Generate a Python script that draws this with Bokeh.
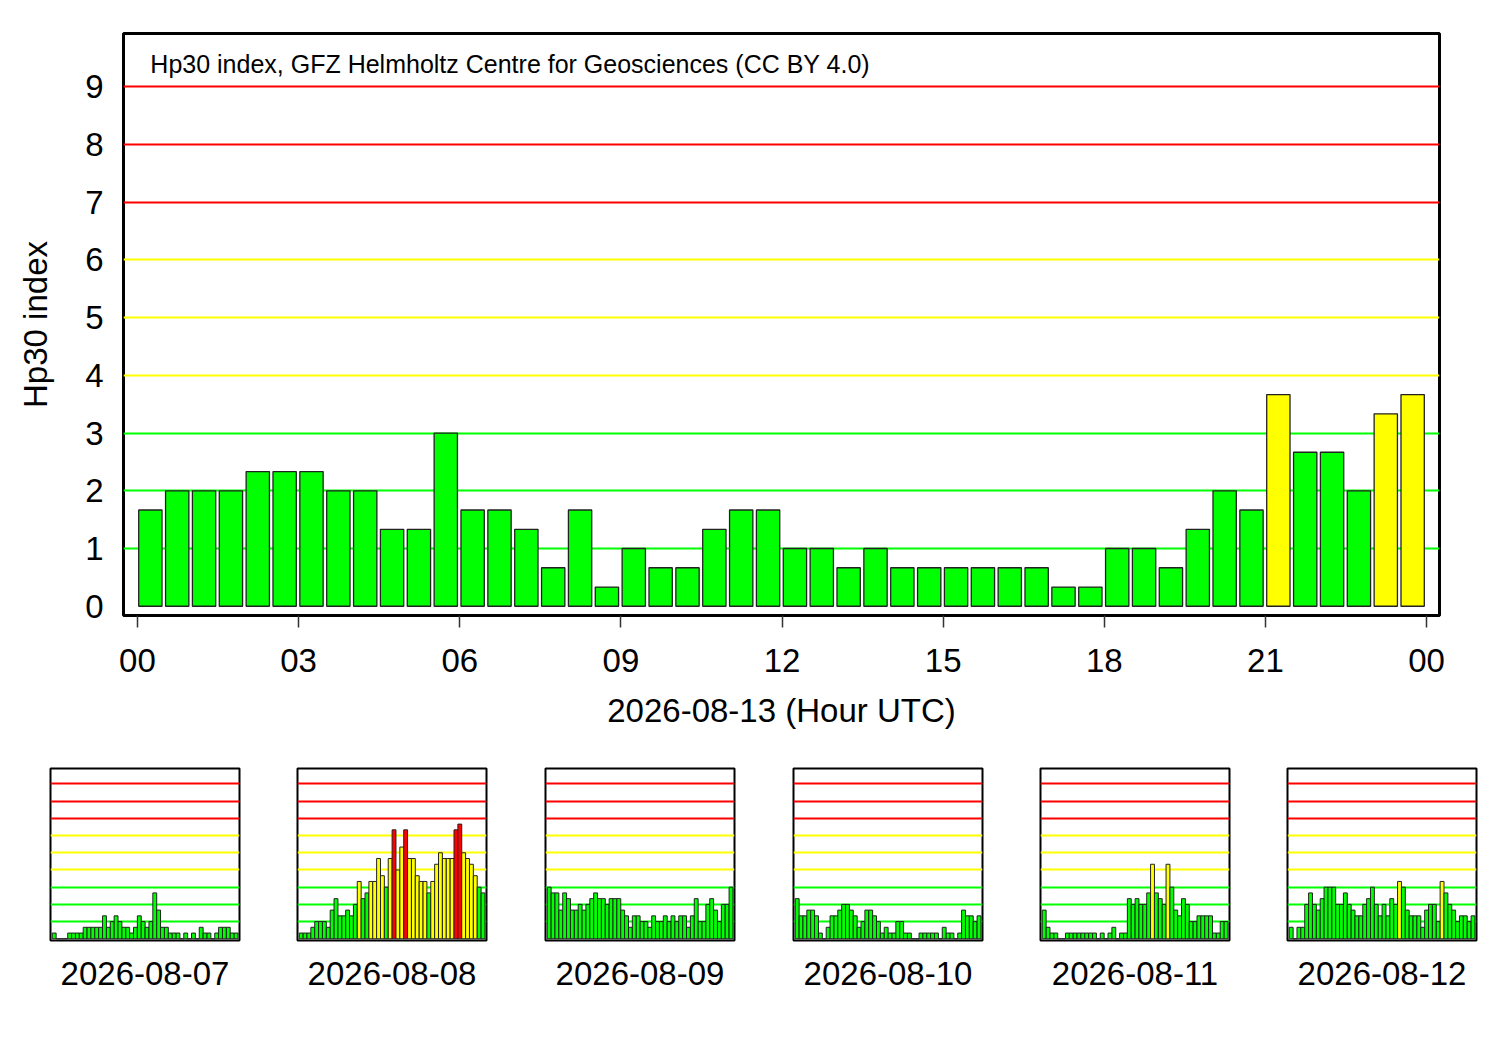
from bokeh.plotting import figure
from bokeh.models import FixedTicker, Range1d, Label, ColumnDataSource
from bokeh.layouts import column, row
from bokeh.embed import file_html
from bokeh.resources import INLINE

# ---------------- data ----------------
main_date = "2026-08-13"
main_values = [1.667, 2, 2, 2, 2.333, 2.333, 2.333, 2, 2, 1.333,
               1.333, 3, 1.667, 1.667, 1.333, 0.667, 1.667, 0.333, 1, 0.667,
               0.667, 1.333, 1.667, 1.667, 1, 1, 0.667, 1, 0.667, 0.667,
               0.667, 0.667, 0.667, 0.667, 0.333, 0.333, 1, 1, 0.667, 1.333,
               2, 1.667, 3.667, 2.667, 2.667, 2, 3.333, 3.667]
hour_ticks = [0, 3, 6, 9, 12, 15, 18, 21, 24]
hour_labels = ["00", "03", "06", "09", "12", "15", "18", "21", "00"]
y_ticks = [0, 1, 2, 3, 4, 5, 6, 7, 8, 9]
grid_levels = [1, 2, 3, 4, 5, 6, 7, 8, 9]

day_dates = ["2026-08-07", "2026-08-08", "2026-08-09",
             "2026-08-10", "2026-08-11", "2026-08-12"]
day07 = [0.333, 0, 0, 0, 0.333, 0.333, 0.333, 0.333, 0.667, 0.667,
         0.667, 0.667, 0.667, 1.333, 0.667, 1, 1.333, 1, 0.667, 0.667,
         0.333, 0.667, 1.333, 1, 0.667, 1, 2.667, 1.667, 0.667, 0.667,
         0.333, 0.333, 0.333, 0, 0.333, 0, 0.333, 0, 0.667, 0.333,
         0.333, 0, 0.333, 0.667, 0.667, 0.667, 0.333, 0.333]
day08 = [0.333, 0.333, 0.333, 0.667, 1, 1, 1, 0.667, 1.667, 2.333,
         1.333, 1.333, 1.667, 1.333, 2, 3.333, 2.333, 2.667, 3.333, 3.333,
         4.667, 3.667, 3, 4.667, 6.333, 4, 5.333, 6.333, 4.667, 4.667,
         3.667, 3.333, 3.333, 2.667, 3.333, 4.333, 5, 4.667, 4.667, 4.667,
         6.333, 6.667, 5, 4.667, 4.333, 3.667, 3, 2.667]
day09 = [3, 2.667, 2.667, 1.667, 2.667, 2.333, 1.667, 1.667, 2, 1.667,
         2, 2.333, 2.667, 2.333, 2.333, 2, 2.333, 2.333, 2.333, 1.667,
         1.333, 0.667, 1.333, 1.333, 1, 1, 0.667, 1.333, 1, 1,
         1.333, 1, 1.333, 1, 1.333, 1.333, 0.667, 1.333, 2.333, 1,
         1, 2, 2.333, 1.667, 1, 2, 2, 3]
day10 = [2.333, 1.333, 1.333, 1.667, 1.667, 1.333, 0.333, 0, 0.667, 1.333,
         1.333, 1.667, 2, 2, 1.667, 1.333, 0.667, 1, 1.667, 1.667,
         1.333, 1, 0.333, 0.667, 0.333, 0.333, 1, 1, 0.333, 0.333,
         0, 0, 0.333, 0.333, 0.333, 0.333, 0.333, 0, 0.667, 0.333,
         0.333, 0, 0.333, 1.667, 1.333, 1.333, 1, 1.333]
day11 = [1.667, 0.667, 0.333, 0.333, 0, 0, 0.333, 0.333, 0.333, 0.333,
         0.333, 0.333, 0.333, 0.333, 0, 0.333, 0, 0.333, 0.667, 0,
         0.333, 0.333, 2.333, 2, 2.333, 2, 2, 2.667, 4.333, 2.667,
         2.333, 2, 4.333, 3, 1.667, 1.333, 2.333, 2, 1, 1,
         1.333, 1.333, 1.333, 1.333, 0.333, 0.333, 1, 1]
day12 = [0.667, 0, 0.667, 0.667, 2, 2.667, 2, 1.667, 2.333, 3,
         3, 3, 2, 2, 2.667, 2, 1.667, 1.333, 1.333, 2,
         2.333, 3, 2, 1.333, 2, 1.333, 2.333, 2, 3.333, 3,
         1.667, 1.333, 1.333, 1.333, 0.667, 1.667, 2, 2, 1, 3.333,
         2.667, 2, 1.667, 1, 1.333, 1.333, 1, 1.333]
day_values = [day07, day08, day09, day10, day11, day12]

# ---------------- styling ----------------
FONT = "Liberation Sans"
GREEN, YELLOW, RED = "#00ff00", "#ffff00", "#ff0000"


def bar_color(v):
    if v <= 3.01:
        return GREEN
    if v <= 6.01:
        return YELLOW
    return RED


def grid_color(level):
    return GREEN if level <= 3 else (YELLOW if level <= 6 else RED)


grid_colors = [grid_color(g) for g in grid_levels]

# ---------------- main chart ----------------
p = figure(width=1484, height=745,
           x_range=Range1d(-0.26, 24.24), y_range=Range1d(-0.16, 9.92),
           output_backend="svg", toolbar_location=None,
           min_border_left=123, min_border_right=45,
           min_border_top=33, min_border_bottom=130)
p.outline_line_color = "black"
p.outline_line_width = 3
p.grid.visible = False
p.background_fill_color = "white"
p.border_fill_color = "white"

p.hspan(y=grid_levels, line_color=grid_colors, line_width=2)

main_x = [i * 0.5 + 0.24 for i in range(len(main_values))]
src = ColumnDataSource(dict(x=main_x, top=main_values,
                            color=[bar_color(v) for v in main_values]))
p.vbar(x="x", top="top", bottom=0, width=0.434, source=src,
       fill_color="color", line_color="#222222", line_width=1.3)

xa = p.xaxis[0]
xa.ticker = FixedTicker(ticks=hour_ticks)
xa.major_label_overrides = {t: l for t, l in zip(hour_ticks, hour_labels)}
xa.axis_line_color = None
xa.major_tick_out = 12
xa.major_tick_in = 0
xa.major_tick_line_width = 1.5
xa.major_tick_line_color = "#333333"
xa.minor_tick_line_color = None
xa.major_label_standoff = 21
xa.major_label_text_font = FONT
xa.major_label_text_font_size = "33px"
xa.major_label_text_color = "black"
xa.axis_label = f"{main_date} (Hour UTC)"
xa.axis_label_text_font = FONT
xa.axis_label_text_font_size = "33px"
xa.axis_label_text_font_style = "normal"
xa.axis_label_text_color = "black"
xa.axis_label_standoff = 17

ya = p.yaxis[0]
ya.ticker = FixedTicker(ticks=y_ticks)
ya.axis_line_color = None
ya.major_tick_out = 0
ya.major_tick_in = 0
ya.major_tick_line_color = None
ya.minor_tick_line_color = None
ya.major_label_standoff = 20
ya.major_label_text_font = FONT
ya.major_label_text_font_size = "33px"
ya.major_label_text_color = "black"
ya.axis_label = "Hp30 index"
ya.axis_label_text_font = FONT
ya.axis_label_text_font_size = "33px"
ya.axis_label_text_font_style = "normal"
ya.axis_label_text_color = "black"
ya.axis_label_standoff = 28

p.add_layout(Label(x=0.24, y=9.40,
                   text="Hp30 index, GFZ Helmholtz Centre for Geosciences (CC BY 4.0)",
                   text_font=FONT, text_font_size="25px", text_color="black",
                   text_baseline="middle"))

# ---------------- small daily charts ----------------
fig_widths = [247, 248, 248, 247, 247, 247]
frame_left = 50
frame_width = 189
smalls = []
for date, vals, w in zip(day_dates, day_values, fig_widths):
    s = figure(width=w, height=247,
               x_range=Range1d(-0.45, 48.4), y_range=Range1d(-0.1, 9.9),
               output_backend="svg", toolbar_location=None,
               min_border_left=frame_left, min_border_right=w - frame_left - frame_width,
               min_border_top=23, min_border_bottom=52)
    s.outline_line_color = "black"
    s.outline_line_width = 2
    s.grid.visible = False
    s.yaxis.visible = False
    s.hspan(y=grid_levels, line_color=grid_colors, line_width=2)
    ssrc = ColumnDataSource(dict(x=[i + 0.5 for i in range(len(vals))], top=vals,
                                 color=[bar_color(v) for v in vals]))
    s.vbar(x="x", top="top", bottom=0, width=1.0, source=ssrc,
           fill_color="color", line_color="#222222", line_width=1)
    sa = s.xaxis[0]
    sa.ticker = FixedTicker(ticks=[])
    sa.axis_line_color = None
    sa.major_tick_out = 0
    sa.major_tick_in = 0
    sa.major_label_standoff = 0
    sa.minor_tick_line_color = None
    sa.axis_label = date
    sa.axis_label_text_font = FONT
    sa.axis_label_text_font_size = "33px"
    sa.axis_label_text_font_style = "normal"
    sa.axis_label_text_color = "black"
    sa.axis_label_standoff = 21
    smalls.append(s)

layout = column(p, row(*smalls, spacing=0), spacing=0)
open("out.html", "w").write(file_html(layout, INLINE))
